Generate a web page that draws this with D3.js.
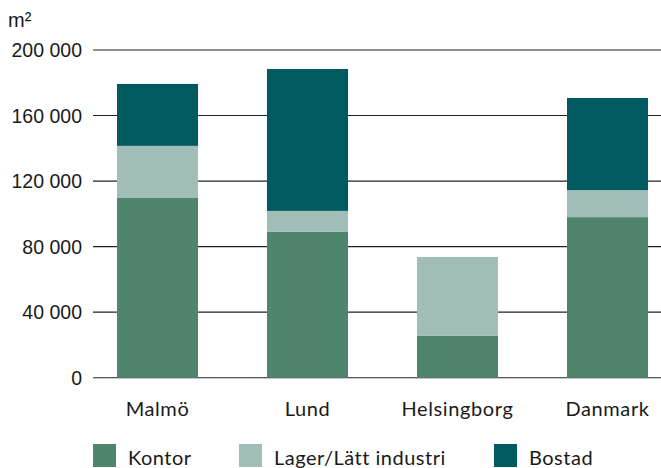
<!DOCTYPE html>
<html><head><meta charset="utf-8">
<script src="https://cdn.jsdelivr.net/npm/d3@7/dist/d3.min.js"></script>
<style>body{margin:0;background:#fff}svg{display:block}</style>
</head><body>
<svg id="c" width="661" height="468"></svg>
<script>
const categories = ["Malmö", "Lund", "Helsingborg", "Danmark"];
const seriesNames = ["Kontor", "Lager/Lätt industri", "Bostad"];
const kontor = [110000, 89000, 25500, 98000];
const lager = [31500, 12800, 48200, 16500];
const bostad = [37800, 86600, 0, 56200];
const yTicks = [0, 40000, 80000, 120000, 160000, 200000];
const colors = ["#4f856d", "#a0beb7", "#005b60"];

const svg = d3.select("#c");
const x = d3.scaleBand().domain(categories).range([82.5, 682.5]).paddingInner(0.46).paddingOuter(0.23);
const y = d3.scaleLinear().domain([0, 200000]).range([377.7, 50]);

const fmt = v => v === 0 ? "0" : d3.format(",")(v).replace(/,/g, " ");

// gridlines
svg.append("g").selectAll("line").data(yTicks).join("line")
  .attr("x1", 93).attr("x2", 661)
  .attr("y1", d => y(d)).attr("y2", d => y(d))
  .attr("stroke", "#222").attr("stroke-width", 1.1);

// tick labels
svg.append("g").selectAll("text").data(yTicks).join("text")
  .attr("x", 82).attr("y", d => y(d) + 7)
  .attr("text-anchor", "end")
  .attr("font-family", "'Liberation Sans', Arial, sans-serif")
  .attr("font-size", 19.5).attr("fill", "#1a1a1a")
  .text(fmt);

svg.append("text").attr("x", 8).attr("y", 27)
  .attr("font-family", "'Liberation Sans', Arial, sans-serif")
  .attr("font-size", 20).attr("fill", "#1a1a1a").text("m²");

// stacked bars
const rows = categories.map((c, i) => ({cat: c, Kontor: kontor[i], "Lager/Lätt industri": lager[i], Bostad: bostad[i]}));
const stack = d3.stack().keys(seriesNames)(rows);
svg.append("g").selectAll("g").data(stack).join("g")
  .attr("fill", (d, i) => colors[i])
  .selectAll("rect").data(d => d).join("rect")
  .attr("x", d => x(d.data.cat)).attr("width", x.bandwidth())
  .attr("y", d => y(d[1])).attr("height", d => y(d[0]) - y(d[1]));

// category labels
svg.append("g").selectAll("text").data(categories).join("text")
  .attr("x", d => x(d) + x.bandwidth() / 2).attr("y", 416)
  .attr("text-anchor", "middle")
  .attr("font-family", "Lato, sans-serif")
  .attr("letter-spacing", 0.6)
  .attr("font-size", 20).attr("fill", "#1a1a1a").text(d => d);

// legend
const legX = [93, 239, 494];
const lg = svg.append("g").selectAll("g").data(seriesNames).join("g")
  .attr("transform", (d, i) => `translate(${legX[i]},444)`);
lg.append("rect").attr("width", 23).attr("height", 23).attr("fill", (d, i) => colors[i]);
lg.append("text").attr("x", 35).attr("y", 21)
  .attr("font-family", "Lato, sans-serif")
  .attr("letter-spacing", 0.5)
  .attr("font-size", 20).attr("fill", "#1a1a1a").text(d => d);
</script>
</body></html>
